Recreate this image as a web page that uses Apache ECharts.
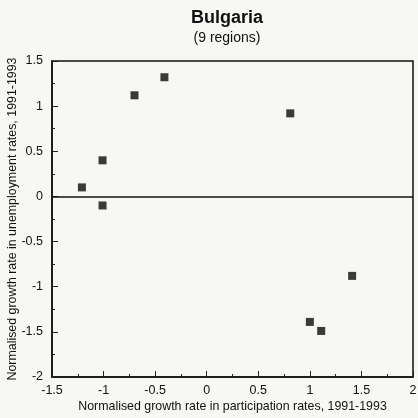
<!DOCTYPE html>
<html>
<head>
<meta charset="utf-8">
<script src="https://cdn.jsdelivr.net/npm/echarts@6/dist/echarts.min.js"></script>
<style>
  html, body { margin: 0; padding: 0; background: #f7f7f5; }
  #chart { width: 418px; height: 418px; }
</style>
</head>
<body>
<div id="chart"></div>
<script>
// regions: normalised growth in participation rate (x) vs unemployment rate (y)
const participation = [-1.21, -1.01, -1.01, -0.70, -0.41, 0.81, 1.41, 1.00, 1.11]
const unemployment = [0.10, 0.40, -0.10, 1.12, 1.32, 0.92, -0.88, -1.39, -1.49]

const points = participation.map((x, i) => [x, unemployment[i]])

const font = "'Liberation Sans', Arial, sans-serif"
const chart = echarts.init(document.getElementById("chart"))

const axisCommon = {
  type: "value",
  interval: 0.5,
  axisLine: { show: true, onZero: false, lineStyle: { color: "#111", width: 1.5 } },
  axisTick: { show: true, inside: true, length: 6, lineStyle: { color: "#222", width: 1 } },
  minorTick: { show: true, splitNumber: 2, length: 3, lineStyle: { color: "#222", width: 1 } },
  splitLine: { show: false },
  axisLabel: { color: "#111", fontSize: 12.5, fontFamily: font },
  nameLocation: "middle",
  nameMoveOverlap: false,
  nameTextStyle: { color: "#111", fontSize: 12.4, fontFamily: font }
}

const option = {
  backgroundColor: "#f7f7f5",
  animation: false,
  title: {
    text: "Bulgaria",
    subtext: "(9 regions)",
    left: 222,
    textAlign: "center",
    top: 4,
    itemGap: 4,
    textStyle: { color: "#111", fontSize: 18, fontWeight: "bold", fontFamily: font },
    subtextStyle: { color: "#111", fontSize: 14, fontFamily: font }
  },
  grid: {
    left: 52,
    right: 5,
    top: 61,
    bottom: 41,
    outerBoundsMode: "none",
    containLabel: false,
    show: true,
    borderColor: "#111",
    borderWidth: 1.5,
    backgroundColor: "transparent"
  },
  xAxis: {
    ...axisCommon,
    min: -1.5,
    max: 2,
    name: "Normalised growth rate in participation rates, 1991-1993",
    nameGap: 24,
    axisLabel: { ...axisCommon.axisLabel, margin: 7 }
  },
  yAxis: {
    ...axisCommon,
    min: -2,
    max: 1.5,
    name: "Normalised growth rate in unemployment rates, 1991-1993",
    nameGap: 33,
    axisLabel: { ...axisCommon.axisLabel, margin: 9 }
  },
  series: [
    {
      type: "scatter",
      data: points,
      symbol: "rect",
      symbolSize: 8,
      itemStyle: { color: "#0a0a0a" },
      markLine: {
        silent: true,
        symbol: "none",
        label: { show: false },
        lineStyle: { color: "#111", width: 1.5, type: "solid" },
        data: [{ yAxis: 0 }]
      }
    }
  ]
}

chart.setOption(option)
</script>
</body>
</html>
